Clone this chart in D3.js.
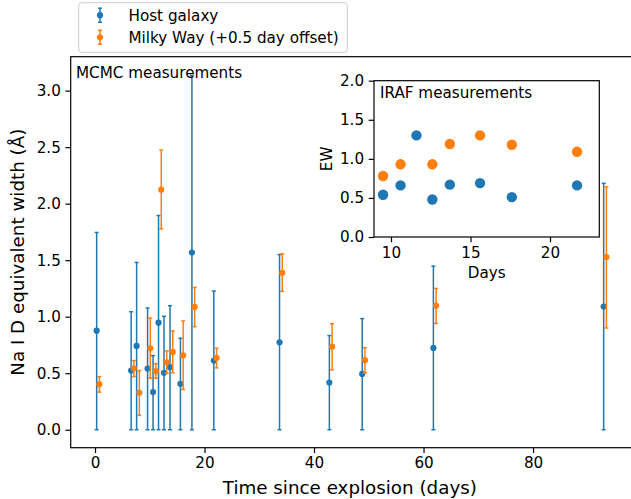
<!DOCTYPE html>
<html>
<head>
<meta charset="utf-8">
<script src="https://cdn.jsdelivr.net/npm/d3@7"></script>
<style>
  body { margin: 0; background: #fff; }
  svg { display: block; }
  text { font-family: "DejaVu Sans", sans-serif; fill: #000; }
</style>
</head>
<body>
<svg id="chart" width="631" height="499"></svg>
<script>
// MCMC measurements, host galaxy
var hostDays = [0.3, 6.6, 7.6, 9.6, 10.6, 11.6, 12.6, 13.7, 15.6, 17.7, 21.7, 33.7, 42.8, 48.8, 61.8, 92.9];
var hostEW   = [0.876, 0.523, 0.741, 0.541, 0.333, 0.947, 0.503, 0.553, 0.406, 1.568, 0.612, 0.774, 0.418, 0.494, 0.724, 1.09];
var hostLow  = [0, 0, 0, 0, 0, 0, 0, 0, 0, 0, 0, 0, 0, 0, 0, 0];
var hostHigh = [1.745, 1.044, 1.48, 1.077, 0.656, 1.895, 1.003, 1.097, 0.809, 3.133, 1.227, 1.55, 0.833, 0.983, 1.447, 2.18];

// MCMC measurements, Milky Way (+0.5 day offset)
var mwDays = [0.8, 7.1, 8.1, 10.1, 11.1, 12.1, 13.1, 14.2, 16.1, 18.2, 22.2, 34.2, 43.3, 49.3, 62.3, 93.4];
var mwEW   = [0.403, 0.544, 0.327, 0.721, 0.518, 2.124, 0.597, 0.688, 0.659, 1.086, 0.635, 1.388, 0.735, 0.615, 1.097, 1.527];
var mwLow  = [0.333, 0.47, 0.127, 0.456, 0.456, 1.777, 0.5, 0.503, 0.356, 0.912, 0.547, 1.224, 0.53, 0.503, 0.94, 0.9];
var mwHigh = [0.47, 0.612, 0.523, 0.988, 0.585, 2.474, 0.697, 0.874, 0.962, 1.259, 0.721, 1.556, 0.938, 0.726, 1.25, 2.148];

// IRAF measurements (inset)
var irafHostDays = [9.5, 10.6, 11.6, 12.6, 13.7, 15.6, 17.6, 21.7];
var irafHostEW   = [0.54, 0.66, 1.30, 0.48, 0.67, 0.69, 0.51, 0.66];
var irafMwDays   = [9.5, 10.6, 12.6, 13.7, 15.6, 17.6, 21.7];
var irafMwEW     = [0.78, 0.93, 0.93, 1.19, 1.30, 1.18, 1.09];

var mainXTicks = [0, 20, 40, 60, 80];
var mainYTicks = [0, 0.5, 1, 1.5, 2, 2.5, 3];
var insetXTicks = [10, 15, 20];
var insetYTicks = [0, 0.5, 1, 1.5, 2];

var blue = "#1f77b4";
var orange = "#ff7f0e";

var fontSmall = 15.2;
var fontLabel = 18.3;

let svg = d3.select("#chart");

// Main axes box
let box = { left: 70.7, right: 631.6, top: 56.7, bottom: 447.7 };

let x = d3.scaleLinear().domain([-4.44, 98.0]).range([box.left, box.right]);
let y = d3.scaleLinear().domain([-0.159, 3.30]).range([box.bottom, box.top]);

function styleAxis(g, fontSize) {
    g.select(".domain").remove();
    g.selectAll(".tick line").attr("stroke", "#000").attr("stroke-width", 1.2);
    g.selectAll(".tick text")
        .style("font-family", "DejaVu Sans")
        .style("font-size", fontSize + "px")
        .attr("fill", "#000");
}

let xAxis = d3.axisBottom(x).tickValues(mainXTicks).tickSize(5.3).tickPadding(4.6)
    .tickFormat(d3.format("d"));
let yAxis = d3.axisLeft(y).tickValues(mainYTicks).tickSize(5.3).tickPadding(4.6)
    .tickFormat(d3.format(".1f"));

svg.append("g").attr("transform", "translate(0," + box.bottom + ")").call(xAxis).call(styleAxis, fontSmall);
svg.append("g").attr("transform", "translate(" + box.left + ",0)").call(yAxis).call(styleAxis, fontSmall);

// error bars
function drawErrorbars(g, days, ew, lo, hi, color) {
    let grp = g.append("g");
    days.forEach((d, i) => {
        let cx = x(d);
        grp.append("line")
            .attr("x1", cx).attr("x2", cx)
            .attr("y1", y(lo[i])).attr("y2", y(hi[i]))
            .attr("stroke", color).attr("stroke-width", 1.5);
        [lo[i], hi[i]].forEach((v) => {
            grp.append("line")
                .attr("x1", cx - 2).attr("x2", cx + 2)
                .attr("y1", y(v)).attr("y2", y(v))
                .attr("stroke", color).attr("stroke-width", 1.5);
        });
        grp.append("circle")
            .attr("cx", cx).attr("cy", y(ew[i])).attr("r", 3.1)
            .attr("fill", color);
    });
}

let plot = svg.append("g");
drawErrorbars(plot, hostDays, hostEW, hostLow, hostHigh, blue);
drawErrorbars(plot, mwDays, mwEW, mwLow, mwHigh, orange);

// spines (right one lies past the edge)
svg.append("rect")
    .attr("x", box.left).attr("y", box.top)
    .attr("width", box.right - box.left).attr("height", box.bottom - box.top)
    .attr("fill", "none").attr("stroke", "#000").attr("stroke-width", 1.2);

svg.append("text")
    .text("MCMC measurements")
    .attr("x", 76).attr("y", 77.5)
    .style("font-size", fontSmall + "px");

// Axis titles
svg.append("text")
    .text("Time since explosion (days)")
    .attr("x", (box.left + 631) / 2 - 1).attr("y", 493.5)
    .attr("text-anchor", "middle")
    .style("font-size", fontLabel + "px");

svg.append("text")
    .text("Na I D equivalent width (Å)")
    .attr("transform", "translate(24," + ((box.top + box.bottom) / 2) + ") rotate(-90)")
    .attr("text-anchor", "middle")
    .style("font-size", fontLabel + "px");

// Inset
let ibox = { left: 374, right: 599.3, top: 80.7, bottom: 237 };
let ix = d3.scaleLinear().domain([8.93, 23.1]).range([ibox.left, ibox.right]);
let iy = d3.scaleLinear().domain([0, 2]).range([ibox.bottom, ibox.top]);

svg.append("rect")
    .attr("x", ibox.left).attr("y", ibox.top)
    .attr("width", ibox.right - ibox.left).attr("height", ibox.bottom - ibox.top)
    .attr("fill", "#fff");

let inset = svg.append("g");
inset.selectAll("circle.h")
    .data(irafHostDays.map((d, i) => ({ d: d, v: irafHostEW[i] })))
    .enter().append("circle")
    .attr("cx", (p) => ix(p.d)).attr("cy", (p) => iy(p.v)).attr("r", 5.2)
    .attr("fill", blue);
inset.selectAll("circle.m")
    .data(irafMwDays.map((d, i) => ({ d: d, v: irafMwEW[i] })))
    .enter().append("circle")
    .attr("cx", (p) => ix(p.d)).attr("cy", (p) => iy(p.v)).attr("r", 5.2)
    .attr("fill", orange);

svg.append("rect")
    .attr("x", ibox.left).attr("y", ibox.top)
    .attr("width", ibox.right - ibox.left).attr("height", ibox.bottom - ibox.top)
    .attr("fill", "none").attr("stroke", "#000").attr("stroke-width", 1.2);

let ixAxis = d3.axisBottom(ix).tickValues(insetXTicks).tickSize(5.3).tickPadding(4.6)
    .tickFormat(d3.format("d"));
let iyAxis = d3.axisLeft(iy).tickValues(insetYTicks).tickSize(5.3).tickPadding(4.6)
    .tickFormat(d3.format(".1f"));
svg.append("g").attr("transform", "translate(0," + ibox.bottom + ")").call(ixAxis).call(styleAxis, fontSmall);
svg.append("g").attr("transform", "translate(" + ibox.left + ",0)").call(iyAxis).call(styleAxis, fontSmall);

svg.append("text")
    .text("IRAF measurements")
    .attr("x", 380).attr("y", 97.5)
    .style("font-size", fontSmall + "px");

svg.append("text")
    .text("Days")
    .attr("x", (ibox.left + ibox.right) / 2).attr("y", 278)
    .attr("text-anchor", "middle")
    .style("font-size", fontSmall + "px");

svg.append("text")
    .text("EW")
    .attr("transform", "translate(332," + ((ibox.top + ibox.bottom) / 2) + ") rotate(-90)")
    .attr("text-anchor", "middle")
    .style("font-size", fontSmall + "px");

// Legend
let legend = svg.append("g");
legend.append("rect")
    .attr("x", 78.7).attr("y", 2.7).attr("width", 268.6).attr("height", 49.6)
    .attr("rx", 3).attr("fill", "#fff").attr("fill-opacity", 0.8)
    .attr("stroke", "#cccccc").attr("stroke-width", 1);

let legendItems = [
    { label: "Host galaxy", color: blue },
    { label: "Milky Way (+0.5 day offset)", color: orange }
];
legendItems.forEach((item, i) => {
    let cy = 15.2 + i * 22.1;
    legend.append("line")
        .attr("x1", 100).attr("x2", 100).attr("y1", cy - 7).attr("y2", cy + 7)
        .attr("stroke", item.color).attr("stroke-width", 1.5);
    [cy - 7, cy + 7].forEach((v) => {
        legend.append("line")
            .attr("x1", 98).attr("x2", 102).attr("y1", v).attr("y2", v)
            .attr("stroke", item.color).attr("stroke-width", 1.5);
    });
    legend.append("circle").attr("cx", 100).attr("cy", cy).attr("r", 3.1).attr("fill", item.color);
    legend.append("text")
        .text(item.label)
        .attr("x", 128.5).attr("y", cy + 5.5)
        .style("font-size", fontSmall + "px");
});
</script>
</body>
</html>
